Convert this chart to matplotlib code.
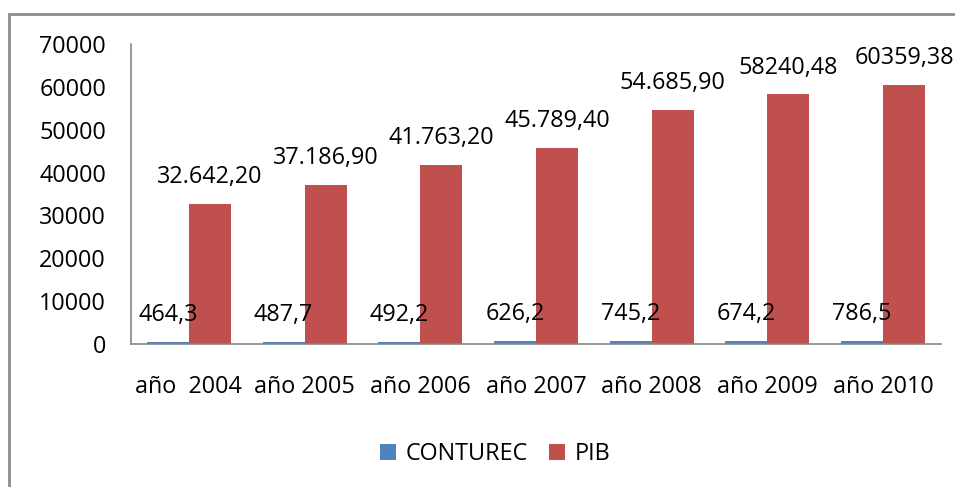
import matplotlib
matplotlib.use('Agg')
import matplotlib.pyplot as plt
from matplotlib.patches import Rectangle
import numpy as np

categories = ['año  2004', 'año 2005', 'año 2006', 'año 2007', 'año 2008', 'año 2009', 'año 2010']
conturec = [464.3, 487.7, 492.2, 626.2, 745.2, 674.2, 786.5]
pib = [32642.20, 37186.90, 41763.20, 45789.40, 54685.90, 58240.48, 60359.38]
conturec_labels = ['464,3', '487,7', '492,2', '626,2', '745,2', '674,2', '786,5']
pib_labels = ['32.642,20', '37.186,90', '41.763,20', '45.789,40', '54.685,90', '58240,48', '60359,38']

plt.rcParams['font.family'] = ['Open Sans', 'DejaVu Sans']
fs = 16.8

fig = plt.figure(figsize=(9.55, 4.87), dpi=100)
ax = fig.add_axes([131 / 955, 1 - 344 / 487, 810 / 955, 300 / 487])

# outer chart border
fig.add_artist(Rectangle((9 / 955, -0.1), 1.2, 1 - 14 / 487 + 0.1, transform=fig.transFigure,
                         fill=False, edgecolor='#8c8c8c', linewidth=2))

x = np.arange(len(categories))
w = 0.363
b1 = ax.bar(x - w / 2, conturec, w, color='#4F81BD', label='CONTUREC')
b2 = ax.bar(x + w / 2, pib, w, color='#C0504D', label='PIB')

for rect, lab in zip(b1, conturec_labels):
    ax.annotate(lab, (rect.get_x() + rect.get_width() / 2, rect.get_height()),
                xytext=(0, 15), textcoords='offset points', ha='center', va='baseline', fontsize=fs)
for rect, lab in zip(b2, pib_labels):
    ax.annotate(lab, (rect.get_x() + rect.get_width() / 2, rect.get_height()),
                xytext=(0, 15), textcoords='offset points', ha='center', va='baseline', fontsize=fs)

ax.set_xlim(-0.5, len(categories) - 0.5)
ax.set_ylim(0, 70000)
ax.set_yticks(range(0, 70001, 10000))
ax.set_xticks(x)
ax.set_xticklabels(categories)
ax.tick_params(axis='y', length=0, pad=18, labelsize=fs)
ax.tick_params(axis='x', length=0, pad=22, labelsize=fs)
for s in ['top', 'right']:
    ax.spines[s].set_visible(False)
for s in ['left', 'bottom']:
    ax.spines[s].set_color('#868686')
    ax.spines[s].set_linewidth(1.2)

fig.legend(loc='center', bbox_to_anchor=(495 / 955, 1 - 454 / 487), ncol=2, frameon=False,
           fontsize=fs, handlelength=0.7, handleheight=0.7, handletextpad=0.4, columnspacing=0.9)

fig.savefig('out.png', dpi=100)
